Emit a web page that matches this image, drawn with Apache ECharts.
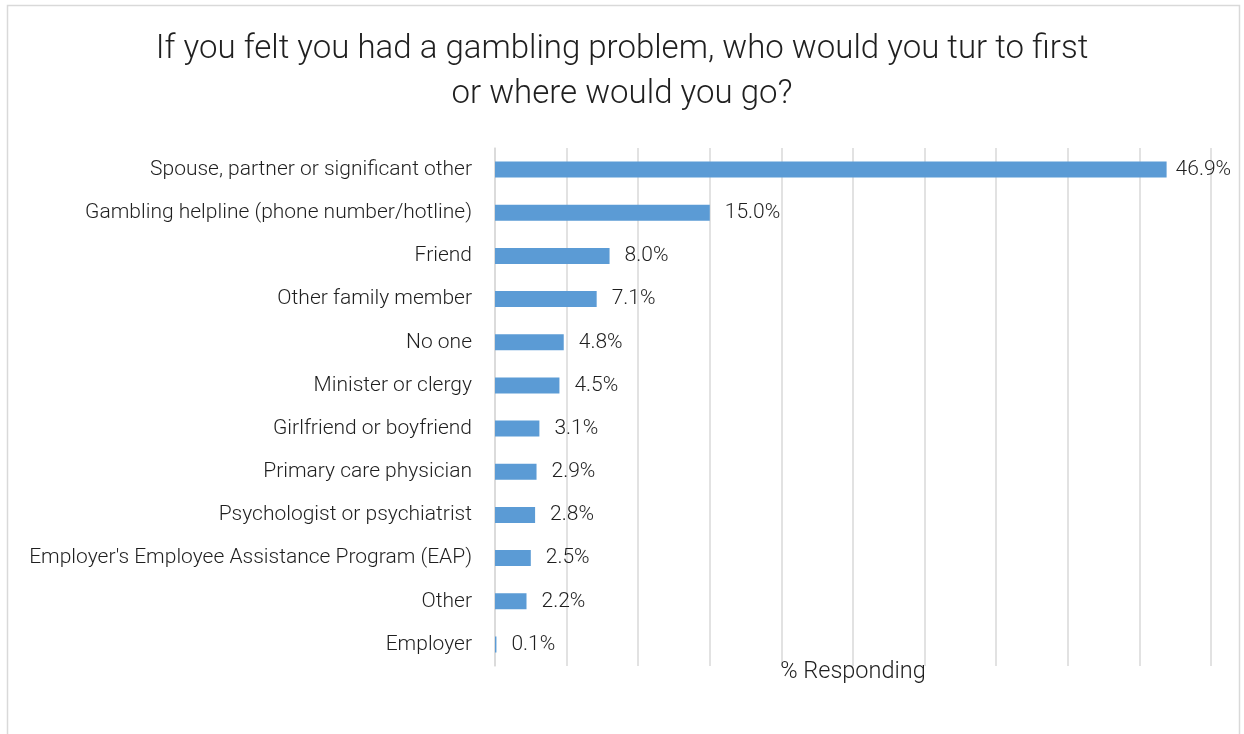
<!DOCTYPE html>
<html>
<head>
<meta charset="utf-8">
<script src="https://cdn.jsdelivr.net/npm/echarts@6/dist/echarts.min.js"></script>
<style>
html,body{margin:0;padding:0;background:#fff;}
#chart{width:1244px;height:734px;}
</style>
</head>
<body>
<div id="chart"></div>
<script>
const categories = [
  "Spouse, partner or significant other",
  "Gambling helpline (phone number/hotline)",
  "Friend",
  "Other family member",
  "No one",
  "Minister or clergy",
  "Girlfriend or boyfriend",
  "Primary care physician",
  "Psychologist or psychiatrist",
  "Employer's Employee Assistance Program (EAP)",
  "Other",
  "Employer"
];
const values = [46.9, 15.0, 8.0, 7.1, 4.8, 4.5, 3.1, 2.9, 2.8, 2.5, 2.2, 0.1];
const titleText = "If you felt you had a gambling problem, who would you tur to first\nor where would you go?";
const axisName = "% Responding";

const font = "Roboto";
const chart = echarts.init(document.getElementById('chart'), null, {renderer: 'canvas'});
chart.setOption({
  backgroundColor: '#ffffff',
  animation: false,
  graphic: [{
    type: 'rect',
    shape: {x: 7.5, y: 5.5, width: 1232, height: 760},
    style: {fill: 'none', stroke: '#d9d9d9', lineWidth: 1.5},
    silent: true
  }],
  title: {
    text: titleText,
    left: 'center',
    top: 22,
    textStyle: {
      fontFamily: font, fontWeight: 300, fontSize: 33, color: '#1f1f1f', lineHeight: 45
    }
  },
  grid: {left: 495, right: 33, top: 148, height: 518, containLabel: false},
  xAxis: {
    type: 'value',
    min: 0, max: 50, interval: 5,
    name: axisName,
    nameLocation: 'middle',
    nameGap: -6,
    nameTextStyle: {fontFamily: font, fontWeight: 300, fontSize: 23.5, color: '#1f1f1f'},
    axisLabel: {show: false},
    axisTick: {show: false},
    axisLine: {show: false},
    splitLine: {show: true, lineStyle: {color: '#d9d9d9', width: 1.5}}
  },
  yAxis: {
    type: 'category',
    data: categories,
    inverse: true,
    axisTick: {show: false},
    axisLine: {show: true, lineStyle: {color: '#d9d9d9', width: 1.5}},
    axisLabel: {
      margin: 23,
      fontFamily: font, fontWeight: 300, fontSize: 21, color: '#1f1f1f'
    }
  },
  series: [{
    type: 'bar',
    data: values.map((v, i) => i === 0 ? {value: v, label: {distance: 9}} : v),
    barWidth: 16,
    itemStyle: {color: '#5b9bd5'},
    label: {
      show: true,
      position: 'right',
      distance: 15,
      formatter: p => p.value.toFixed(1) + '%',
      fontFamily: font, fontWeight: 300, fontSize: 21, color: '#1f1f1f'
    }
  }]
});
</script>
</body>
</html>
